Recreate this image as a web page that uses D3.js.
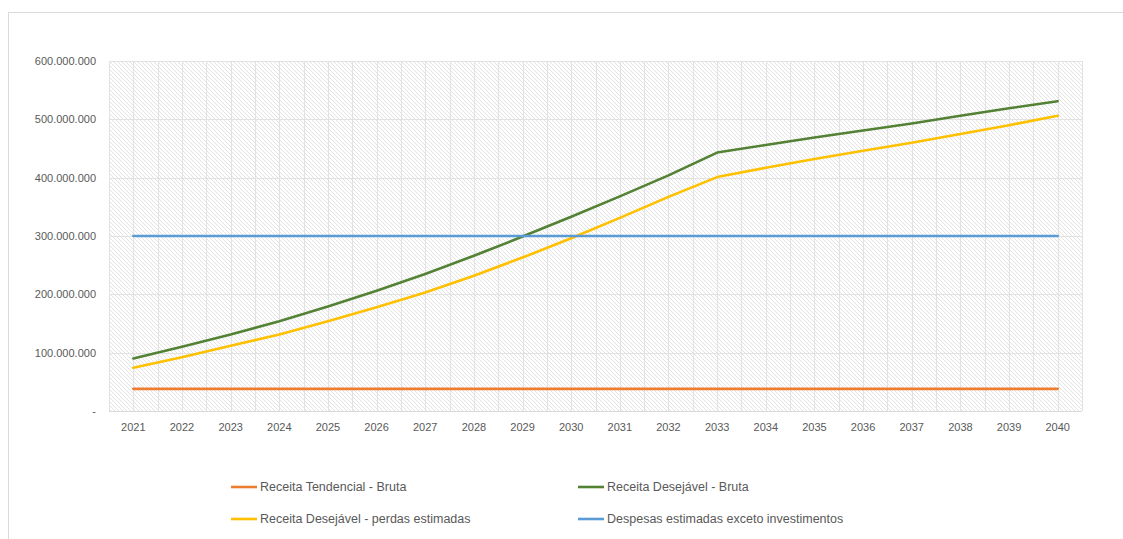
<!DOCTYPE html>
<html>
<head>
<meta charset="utf-8">
<script src="https://cdn.jsdelivr.net/npm/d3@7"></script>
<style>
  html, body { margin: 0; padding: 0; background: #fff; }
  svg { display: block; font-family: "Liberation Sans", Arial, sans-serif; }
</style>
</head>
<body>
<svg id="chart" width="1123" height="539"></svg>
<script>
// Anos da projeção
const years = ["2021","2022","2023","2024","2025","2026","2027","2028","2029","2030",
               "2031","2032","2033","2034","2035","2036","2037","2038","2039","2040"];

// Séries (R$)
const receitaTendencialBruta = [38e6,38e6,38e6,38e6,38e6,38e6,38e6,38e6,38e6,38e6,
                                38e6,38e6,38e6,38e6,38e6,38e6,38e6,38e6,38e6,38e6];
const receitaDesejavelBruta = [90e6,110e6,131e6,154e6,179e6,206e6,235e6,266e6,299e6,333e6,
                               368e6,404e6,443e6,456e6,469e6,481e6,493e6,506e6,519e6,531e6];
const receitaDesejavelPerdas = [74e6,92e6,112e6,131e6,154e6,178e6,203e6,232e6,263e6,296e6,
                                331e6,367e6,401e6,417e6,432e6,446e6,460e6,475e6,490e6,506e6];
const despesasEstimadas = [300e6,300e6,300e6,300e6,300e6,300e6,300e6,300e6,300e6,300e6,
                           300e6,300e6,300e6,300e6,300e6,300e6,300e6,300e6,300e6,300e6];

const yTicks = [0, 100e6, 200e6, 300e6, 400e6, 500e6, 600e6];

const seriesNames = ["Receita Tendencial - Bruta", "Receita Desejável - Bruta",
                     "Receita Desejável - perdas estimadas", "Despesas estimadas exceto investimentos"];
const seriesValues = [receitaTendencialBruta, receitaDesejavelBruta, receitaDesejavelPerdas, despesasEstimadas];
const seriesColors = ["#ED7D31", "#548235", "#FFC000", "#5B9BD5"];

const svg = d3.select("#chart");
const plot = { left: 109, right: 1082, top: 61, bottom: 411 };

// Moldura da área do gráfico
svg.append("rect")
  .attr("x", 8.5).attr("y", 12.5)
  .attr("width", 1130).attr("height", 540)
  .attr("fill", "#fff").attr("stroke", "#d9d9d9").attr("stroke-width", 1);

// Padrão hachurado diagonal do fundo
const defs = svg.append("defs");
const pat = defs.append("pattern")
  .attr("id", "hatch").attr("patternUnits", "userSpaceOnUse")
  .attr("width", 4).attr("height", 4);
pat.append("rect").attr("width", 4).attr("height", 4).attr("fill", "#fff");
pat.append("path")
  .attr("d", "M-1,-1 L5,5 M-1,3 L1,5 M3,-1 L5,1")
  .attr("stroke", "#e0e0e0").attr("stroke-width", 0.9);

const x = d3.scaleBand().domain(years).range([plot.left, plot.right]).paddingInner(0).paddingOuter(0);
const y = d3.scaleLinear().domain([0, 600e6]).range([plot.bottom, plot.top]);
const cx = d => x(d) + x.bandwidth() / 2;

svg.append("rect")
  .attr("x", plot.left).attr("y", plot.top)
  .attr("width", plot.right - plot.left).attr("height", plot.bottom - plot.top)
  .attr("fill", "url(#hatch)");

// Linhas de grade verticais (limites e centros das categorias)
const vLines = [];
years.forEach(d => { vLines.push(x(d)); vLines.push(cx(d)); });
vLines.push(plot.right);
svg.append("g").selectAll("line").data(vLines).join("line")
  .attr("x1", d => Math.round(d) + 0.5).attr("x2", d => Math.round(d) + 0.5)
  .attr("y1", plot.top).attr("y2", plot.bottom)
  .attr("stroke", "#e2e2e2").attr("stroke-width", 1);

// Linhas de grade horizontais
svg.append("g").selectAll("line").data(yTicks).join("line")
  .attr("x1", plot.left).attr("x2", plot.right)
  .attr("y1", d => Math.round(y(d)) + 0.5).attr("y2", d => Math.round(y(d)) + 0.5)
  .attr("stroke", d => d === 0 ? "#d9d9d9" : "#e2e2e2").attr("stroke-width", 1);

// Eixo Y
const ptBR = d3.formatLocale({ decimal: ",", thousands: ".", grouping: [3], currency: ["R$", ""] });
const fmt = ptBR.format(",d");
const yAxis = d3.axisLeft(y).tickValues(yTicks).tickSize(0).tickPadding(13)
  .tickFormat(d => d === 0 ? "-" : fmt(d));
const gy = svg.append("g").attr("transform", `translate(${plot.left},0)`).call(yAxis);
gy.select(".domain").remove();
gy.selectAll("text").attr("fill", "#595959").style("font-size", "11px")
  .style("font-family", "'Liberation Sans', Arial, sans-serif");

// Eixo X
const xAxis = d3.axisBottom(x).tickSize(0).tickPadding(12);
const gx = svg.append("g").attr("transform", `translate(0,${plot.bottom})`).call(xAxis);
gx.select(".domain").remove();
gx.selectAll("text").attr("fill", "#595959").style("font-size", "11px")
  .style("font-family", "'Liberation Sans', Arial, sans-serif");

// Séries
const line = d3.line().x((d, i) => cx(years[i])).y(d => y(d));
svg.append("g").selectAll("path").data(seriesValues).join("path")
  .attr("d", d => line(d))
  .attr("fill", "none")
  .attr("stroke", (d, i) => seriesColors[i])
  .attr("stroke-width", 2.6)
  .attr("stroke-linejoin", "round")
  .attr("stroke-linecap", "round");

// Legenda
const legendPos = [[231, 487], [578, 487], [231, 519], [578, 519]];
const lg = svg.append("g").selectAll("g").data(seriesNames).join("g")
  .attr("transform", (d, i) => `translate(${legendPos[i][0]},${legendPos[i][1]})`);
lg.append("line").attr("x1", 0).attr("x2", 26).attr("y1", 0).attr("y2", 0)
  .attr("stroke", (d, i) => seriesColors[i]).attr("stroke-width", 2.6);
lg.append("text").attr("x", 29).attr("y", 0).attr("dy", "0.35em")
  .attr("fill", "#595959").style("font-size", "12.5px")
  .text(d => d);
</script>
</body>
</html>
